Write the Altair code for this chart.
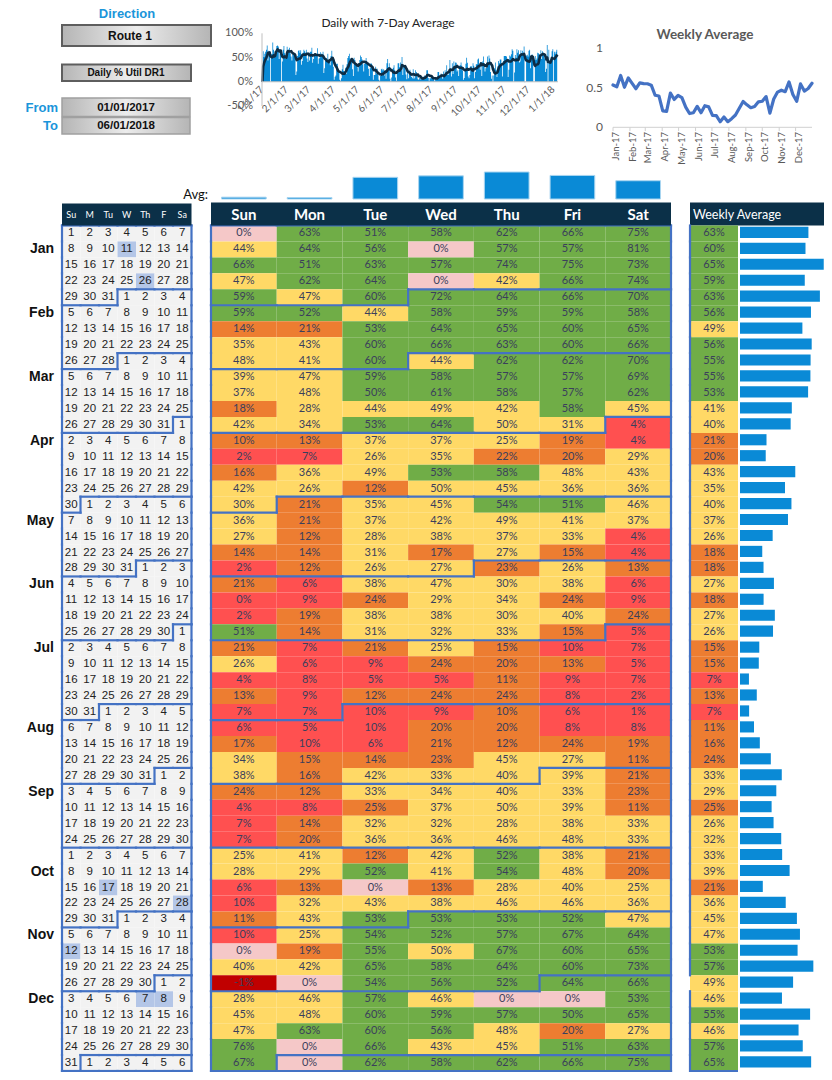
import altair as alt
import pandas as pd
import numpy as np

# ---------------------------------------------------------------- data
DAYS = ["Sun", "Mon", "Tue", "Wed", "Thu", "Fri", "Sat"]
CAL_DAYS = ["Su", "M", "Tu", "W", "Th", "F", "Sa"]
START = "2017-01-01"

# daily % utilisation, one list per weekday, week 1 (1 Jan 2017) .. week 53
util_sun = [0, 44, 66, 47, 59, 59, 14, 35, 48, 39, 37, 18, 42, 10.3, 2, 16, 42, 30, 36, 27, 14, 2, 21, 0.4, 2, 51,
            21, 26, 4, 13, 7, 6, 17, 34, 38, 24, 4, 7, 7, 25, 28, 6, 9.7, 11, 9.7, 0, 40, -1, 28, 45, 47, 76, 67]
util_mon = [63, 64, 51, 62, 47, 52, 21, 43, 41, 47, 48, 28, 34, 13, 7, 36, 26, 21, 21, 12, 14, 12, 6, 9, 19, 14,
            7, 6, 8, 9, 7, 5, 9.7, 15, 16, 12, 8, 14, 20, 41, 29, 13, 32, 43, 25, 19, 42, 0, 46, 48, 63, 0, 0]
util_tue = [51, 56, 63, 64, 60, 44, 53, 60, 60, 59, 50.3, 44, 53, 37, 26, 49, 12, 35, 37, 28, 31, 26, 38, 24, 38, 31,
            21, 9, 5, 12, 9.7, 9.7, 6, 14, 42, 33, 24.6, 32, 36, 12, 52, 0, 43, 53, 54, 55, 65, 54, 57, 60, 60, 66, 62]
util_wed = [58, 0, 57, 0, 72, 58, 64, 66, 44, 58, 61, 49, 64, 37, 35, 53, 49.7, 45, 42, 38, 17, 27, 47, 29, 38, 32,
            25, 24, 5, 24, 9, 20, 21, 23, 33, 34, 37, 32, 36, 42, 41, 13, 38, 53, 52, 49.7, 58, 56, 46, 59, 56, 43, 58]
util_thu = [62, 57, 74, 42, 64, 59, 65, 63, 62, 57, 58, 42, 49.7, 25, 22, 58, 45, 54, 49, 37, 27, 23, 30, 34, 30, 33,
            15, 20, 11, 24, 10.3, 20, 12, 45, 40, 40, 49.7, 28, 46, 52, 54, 28, 46, 53, 57, 67, 64, 52, 0, 57, 48, 45, 62]
util_fri = [66, 57, 75, 66, 66, 59, 60, 60, 62, 57, 57, 58, 31, 19, 20, 48, 36, 51, 41, 33, 15, 26, 38, 24, 40, 15,
            9.7, 13, 9, 8, 6, 8, 24, 27, 39, 33, 39, 38, 48, 38, 48, 40, 46, 52, 67, 60, 60, 64, 0, 50.3, 20, 51, 66]
util_sat = [75, 81, 73, 74, 70, 58, 65, 66, 70, 69, 62, 45, 4, 4, 29, 43, 36, 46, 37, 4, 4, 13, 6, 9, 24, 5,
            7, 5, 7, 2, 1, 8, 19, 11, 21, 23, 11, 33, 33, 21, 20, 25, 36, 47, 64, 65, 73, 66, 53, 65, 27, 63, 75]

# weekly average shown in the table (missing days left out)
weekly_shown = [63, 60, 65, 59, 63, 56, 49, 56, 55, 55, 53, 41, 40, 21, 20, 43, 35, 40, 37, 26, 18, 18, 27, 18, 27,
                26, 15, 15, 7, 13, 7, 11, 16, 24, 33, 29, 24.9, 26, 32, 33, 39, 21, 36, 45, 47, 53, 57, 49, 46, 55,
                46, 57, 65]

holidays = ["2017-01-11", "2017-01-26", "2017-10-17", "2017-10-28", "2017-11-12", "2017-12-07", "2017-12-08"]

daily_ticks = ["1/1/17", "2/1/17", "3/1/17", "4/1/17", "5/1/17", "6/1/17", "7/1/17", "8/1/17", "9/1/17",
               "10/1/17", "11/1/17", "12/1/17", "1/1/18"]
daily_yticks = [1.0, 0.5, 0.0, -0.5]
weekly_ticks = ["Jan-17", "Feb-17", "Mar-17", "Apr-17", "May-17", "Jun-17", "Jul-17", "Aug-17", "Sep-17",
                "Oct-17", "Nov-17", "Dec-17"]
weekly_yticks = [1.0, 0.5, 0.0]

# ---------------------------------------------------------------- styling
NAVY = "#0b3048"
BLUE_LINE = "#4472C4"
BAR_BLUE = "#0A8AD6"
CLS = ["missing", "neg", "red", "orange", "yellow", "green"]
CLR = ["#F5C8C8", "#C00000", "#FF5050", "#ED7D31", "#FFD966", "#70AD47"]
TXT = "#3B3F5C"
GRAYTXT = "#595959"
CAL_FONT = "Liberation Sans"
XL_FONT = "Lato"
GRID_TOP, GRID_BOTTOM = 225.5, 1071.0


def P(v):
    return v - 8


def cls_of(v):
    if v == 0:
        return "missing"
    if v < 0:
        return "neg"
    if v < 0.10:
        return "red"
    if v < 0.25:
        return "orange"
    if v < 0.50:
        return "yellow"
    return "green"


def pct(v):
    return f"{int(np.floor(v * 100 + 0.5))}%"


start = pd.Timestamp(START)
cols = [util_sun, util_mon, util_tue, util_wed, util_thu, util_fri, util_sat]
NW = len(util_sun)
hol = set(pd.to_datetime(holidays))

rows = []
for w in range(NW):
    for d in range(7):
        v = cols[d][w] / 100.0
        dt = start + pd.Timedelta(days=7 * w + d)
        rows.append(dict(w=w, d=d, w1=w + 1, d1=d + 1, wc=w + 0.5, dc=d + 0.5, v=v,
                         cls=cls_of(v), lab=pct(v), day=str(dt.day),
                         hl="h" if dt in hol else "n", i=7 * w + d, z=0.0))
cells = pd.DataFrame(rows)

# month boundary segments (grid units)
segs = []
for w in range(NW):
    for d in range(7):
        dt = start + pd.Timedelta(days=7 * w + d)
        ym = (dt.year, dt.month)
        up = dt - pd.Timedelta(days=7)
        lf = dt - pd.Timedelta(days=1)
        if w == 0 or (up.year, up.month) != ym:
            segs.append((d, d + 1, w, w))
        if d == 0 or (lf.year, lf.month) != ym:
            segs.append((d, d, w, w + 1))
        if d == 6:
            segs.append((7, 7, w, w + 1))
        if w == NW - 1:
            segs.append((d, d + 1, NW, NW))
segs = pd.DataFrame(segs, columns=["x0", "x1", "y0", "y1"])

# month labels on the second row that touches the month
mlab = []
for m in range(1, 13):
    ws = sorted({r["w"] for r in rows
                 if (start + pd.Timedelta(days=r["i"])).year == 2017
                 and (start + pd.Timedelta(days=r["i"])).month == m})
    mlab.append(dict(wc=ws[1] + 0.5, name=pd.Timestamp(2017, m, 1).strftime("%b")))
mlab = pd.DataFrame(mlab)

# weekly table
wk = cells.groupby("w")["v"].mean().reset_index().rename(columns={"v": "mall"})
wk["shown"] = [s / 100.0 for s in weekly_shown]
wk["cls"] = wk["shown"].map(cls_of)
wk["lab"] = wk["shown"].map(pct)
wk["w1"] = wk["w"] + 1
wk["wc"] = wk["w"] + 0.5
wk["b0"] = wk["w"] + 0.08
wk["b1"] = wk["w"] + 0.78
wk["z"] = 0.0
wk["day"] = wk["w"] * 7

# weekday averages
avg = cells.groupby("d")["v"].mean().reset_index()
avg["name"] = [DAYS[d] for d in avg["d"]]
amin, amax = avg["v"].min() - 0.01, avg["v"].max()
avg["base"] = amin

# ticks
dticks = pd.DataFrame({"lab": daily_ticks})
dticks["i"] = [(pd.to_datetime(t, format="%m/%d/%y") - start).days for t in daily_ticks]
dy = pd.DataFrame({"v": daily_yticks, "lab": [f"{int(round(v * 100))}%" for v in daily_yticks]})
wticks = pd.DataFrame({"lab": weekly_ticks})
wticks["day"] = [(pd.to_datetime(t, format="%b-%y") - start).days for t in weekly_ticks]
wyt = pd.DataFrame({"v": weekly_yticks, "lab": [f"{v:g}" for v in weekly_yticks]})

one = pd.DataFrame({"k": [0]})
zero_df = pd.DataFrame({"z": [0.0]})

# ---------------------------------------------------------------- scales
GX = alt.Scale(domain=[0, 7], range=[P(211), P(671)], nice=False, zero=False)
CX = alt.Scale(domain=[0, 7], range=[P(62), P(191.5)], nice=False, zero=False)
GY = alt.Scale(domain=[0, NW], range=[P(GRID_TOP), P(GRID_BOTTOM)], nice=False, zero=False)
WBX = alt.Scale(domain=[0, 1], range=[P(740), P(867.7)], nice=False, zero=False)
AX = alt.Scale(domain=DAYS, range=[P(211), P(671)], paddingInner=0.32, paddingOuter=0.16)
AY = alt.Scale(domain=[amin, amax], range=[P(199), P(172)], nice=False, zero=False, clamp=True)
DX = alt.Scale(domain=[0, 371], range=[P(262), P(558)], nice=False, zero=False)
DYS = alt.Scale(domain=[-0.5, 1.0], range=[P(106), P(33.3)], nice=False, zero=False)
WX = alt.Scale(domain=[0, 364], range=[P(613), P(812)], nice=False, zero=False)
WY = alt.Scale(domain=[0, 1], range=[P(127.3), P(48.3)], nice=False, zero=False)


def X(f, s):
    return alt.X(f, scale=s, axis=None)


def Y(f, s):
    return alt.Y(f, scale=s, axis=None)


def box(x0, x1, y0, y1, **kw):
    return alt.Chart(one).mark_rect(**kw).encode(
        x=alt.value(P(x0)), x2=alt.value(P(x1)), y=alt.value(P(y0)), y2=alt.value(P(y1)))


def label(txt, x, y, **kw):
    return alt.Chart(one).mark_text(text=txt, baseline="middle", **kw).encode(
        x=alt.value(P(x)), y=alt.value(P(y)))


layers = []

# ---------------- heatmap
layers.append(alt.Chart(cells).mark_rect().encode(
    x=X("d:Q", GX), x2="d1:Q", y=Y("w:Q", GY), y2="w1:Q",
    color=alt.Color("cls:N", scale=alt.Scale(domain=CLS, range=CLR), legend=None)))
layers.append(alt.Chart(cells).mark_text(font=XL_FONT, fontSize=11, color=TXT, baseline="middle").encode(
    x=X("dc:Q", GX), y=Y("wc:Q", GY), text="lab:N"))
layers.append(alt.Chart(segs).mark_rule(color=BLUE_LINE, strokeWidth=2.2, strokeCap="square").encode(
    x=X("x0:Q", GX), x2="x1:Q", y=Y("y0:Q", GY), y2="y1:Q"))

# header of heatmap
layers.append(box(211, 671, 202.5, GRID_TOP, fill=NAVY))
hdr = pd.DataFrame({"name": DAYS, "dc": [d + 0.5 for d in range(7)]})
layers.append(alt.Chart(hdr).mark_text(font=XL_FONT, fontSize=15, fontWeight="bold", color="white",
                                       baseline="middle").encode(
    x=X("dc:Q", GX), y=alt.value(P(214.5)), text="name:N"))

# ---------------- calendar
layers.append(alt.Chart(cells).mark_rect().encode(
    x=X("d:Q", CX), x2="d1:Q", y=Y("w:Q", GY), y2="w1:Q",
    color=alt.Color("hl:N", scale=alt.Scale(domain=["n", "h"], range=["#F2F2F2", "#B4C6E7"]), legend=None)))
layers.append(alt.Chart(cells).mark_text(font=CAL_FONT, fontSize=11.5, color="#222222", baseline="middle").encode(
    x=X("dc:Q", CX), y=Y("wc:Q", GY), text="day:N"))
layers.append(alt.Chart(segs).mark_rule(color=BLUE_LINE, strokeWidth=2.2, strokeCap="square").encode(
    x=X("x0:Q", CX), x2="x1:Q", y=Y("y0:Q", GY), y2="y1:Q"))
layers.append(box(62, 191.5, 203.5, GRID_TOP, fill=NAVY))
chdr = pd.DataFrame({"name": CAL_DAYS, "dc": [d + 0.5 for d in range(7)]})
layers.append(alt.Chart(chdr).mark_text(font=XL_FONT, fontSize=9, color="white", baseline="middle").encode(
    x=X("dc:Q", CX), y=alt.value(P(215)), text="name:N"))
layers.append(alt.Chart(mlab).mark_text(font=CAL_FONT, fontSize=14, fontWeight="bold", color="#111111",
                                        align="right", baseline="middle").encode(
    x=alt.value(P(54)), y=Y("wc:Q", GY), text="name:N"))

# ---------------- weekly average column
layers.append(box(690, 826, 202.5, GRID_TOP, fill=NAVY))
layers.append(label("Weekly Average", 693, 215, font=XL_FONT, fontSize=12.5, color="white", align="left"))
layers.append(alt.Chart(wk).mark_rect().encode(
    x=alt.value(P(690)), x2=alt.value(P(738)), y=Y("w:Q", GY), y2="w1:Q",
    color=alt.Color("cls:N", scale=alt.Scale(domain=CLS, range=CLR), legend=None)))
layers.append(alt.Chart(wk).mark_text(font=XL_FONT, fontSize=11, color=TXT, baseline="middle").encode(
    x=alt.value(P(714)), y=Y("wc:Q", GY), text="lab:N"))
layers.append(alt.Chart(wk).mark_rect(color=BAR_BLUE).encode(
    x=X("z:Q", WBX), x2="mall:Q", y=Y("b0:Q", GY), y2="b1:Q"))
wborder = wk[wk["w"] != 47]
layers.append(alt.Chart(wborder).mark_rule(color=BLUE_LINE, strokeWidth=2.2, strokeCap="square").encode(
    x=alt.value(P(690)), y=Y("w:Q", GY), y2="w1:Q"))
layers.append(alt.Chart(pd.DataFrame({"y": [NW]})).mark_rule(color=BLUE_LINE, strokeWidth=2.2).encode(
    x=alt.value(P(690)), x2=alt.value(P(738)), y=Y("y:Q", GY)))

# ---------------- weekday averages
layers.append(alt.Chart(avg).mark_rect(color=BAR_BLUE, stroke="#A9D5F0", strokeWidth=1).encode(
    x=alt.X("name:N", scale=AX, axis=None), y=Y("v:Q", AY), y2="base:Q"))
layers.append(label("Avg:", 208, 195, font=XL_FONT, fontSize=13, color="#111111", align="right"))

# ---------------- daily chart
layers.append(label("Daily with 7-Day Average", 388, 22.5, font=XL_FONT, fontSize=12, color="#222222",
                    align="center"))
layers.append(alt.Chart(cells).mark_area(color=BAR_BLUE, interpolate="step-after").encode(
    x=X("i:Q", DX), y=Y("v:Q", DYS), y2="z:Q"))
layers.append(alt.Chart(cells).transform_window(
    roll="mean(v)", frame=[-6, 0], sort=[alt.SortField("i")]
).transform_calculate(ic="datum.i + 0.5").mark_line(color="#0D2C44", strokeWidth=2.6, strokeJoin="round").encode(
    x=X("ic:Q", DX), y=Y("roll:Q", DYS)))
layers.append(alt.Chart(zero_df).mark_rule(color="#BFBFBF", strokeWidth=1).encode(
    x=alt.value(P(262)), x2=alt.value(P(558)), y=Y("z:Q", DYS)))
layers.append(alt.Chart(one).mark_rule(color="#BFBFBF", strokeWidth=1).encode(
    x=alt.value(P(262)), y=alt.value(P(33.3)), y2=alt.value(P(106))))
layers.append(alt.Chart(dy).mark_text(font=XL_FONT, fontSize=11, color=GRAYTXT, align="right",
                                      baseline="middle").encode(
    x=alt.value(P(253)), y=Y("v:Q", DYS), text="lab:N"))
layers.append(alt.Chart(dticks).mark_text(font=XL_FONT, fontSize=10, color=GRAYTXT, align="right",
                                          baseline="middle", angle=315).encode(
    x=X("i:Q", DX), y=alt.value(P(88)), text="lab:N"))

# ---------------- weekly chart
layers.append(label("Weekly Average", 705, 35, font=XL_FONT, fontSize=13.5, fontWeight="bold", color=GRAYTXT,
                    align="center"))
layers.append(alt.Chart(zero_df).mark_rule(color="#D0D0D0", strokeWidth=1).encode(
    x=alt.value(P(613)), x2=alt.value(P(812)), y=Y("z:Q", WY)))
layers.append(alt.Chart(wticks).mark_rule(color="#D0D0D0", strokeWidth=1).encode(
    x=X("day:Q", WX), y=alt.value(P(127.3)), y2=alt.value(P(131))))
layers.append(alt.Chart(wk).mark_line(color=BLUE_LINE, strokeWidth=3.2, strokeJoin="round",
                                      strokeCap="round").encode(
    x=X("day:Q", WX), y=Y("mall:Q", WY)))
layers.append(alt.Chart(wyt).mark_text(font=XL_FONT, fontSize=12, color=GRAYTXT, align="right",
                                       baseline="middle").encode(
    x=alt.value(P(603)), y=Y("v:Q", WY), text="lab:N"))
layers.append(alt.Chart(wticks).mark_text(font=XL_FONT, fontSize=9.5, color=GRAYTXT, align="right",
                                          baseline="middle", angle=270, dy=3).encode(
    x=X("day:Q", WX), y=alt.value(P(132)), text="lab:N"))

# ---------------- info panel
grad = alt.Gradient(gradient="linear", x1=0, x2=1, y1=0, y2=0,
                    stops=[alt.GradientStop(color="#B5B5B5", offset=0),
                           alt.GradientStop(color="#ECECEC", offset=0.5),
                           alt.GradientStop(color="#B5B5B5", offset=1)])
BLUE_T = "#1B95DA"
layers.append(label("Direction", 127, 13.5, font=CAL_FONT, fontSize=13, fontWeight="bold", color=BLUE_T,
                    align="center"))
layers.append(box(62, 211, 25, 46, fill=grad, stroke="#5E5E5E", strokeWidth=2))
layers.append(label("Route 1", 130, 35.5, font=CAL_FONT, fontSize=12, fontWeight="bold", color="#111111",
                    align="center"))
layers.append(box(62, 191, 64.5, 81, fill=grad, stroke="#5E5E5E", strokeWidth=2))
layers.append(label("Daily % Util DR1", 126, 73, font=CAL_FONT, fontSize=10, fontWeight="bold", color="#111111",
                    align="center"))
layers.append(box(62, 190, 98, 116.5, fill=grad, stroke="#A0A0A0", strokeWidth=1.5))
layers.append(box(62, 190, 117.5, 134, fill=grad, stroke="#A0A0A0", strokeWidth=1.5))
layers.append(label("01/01/2017", 126, 107.5, font=CAL_FONT, fontSize=11.5, fontWeight="bold", color="#111111",
                    align="center"))
layers.append(label("06/01/2018", 126, 125.5, font=CAL_FONT, fontSize=11.5, fontWeight="bold", color="#111111",
                    align="center"))
layers.append(label("From", 58, 108, font=CAL_FONT, fontSize=13, fontWeight="bold", color=BLUE_T, align="right"))
layers.append(label("To", 58, 126, font=CAL_FONT, fontSize=13, fontWeight="bold", color=BLUE_T, align="right"))

chart = alt.layer(*layers).resolve_scale(
    x="independent", y="independent", color="independent"
).properties(
    width=816, height=1064, padding=0, autosize=alt.AutoSizeParams(type="none")
).configure_view(stroke=None)

chart.save("out.html", embed_options={"renderer": "svg", "actions": False})
